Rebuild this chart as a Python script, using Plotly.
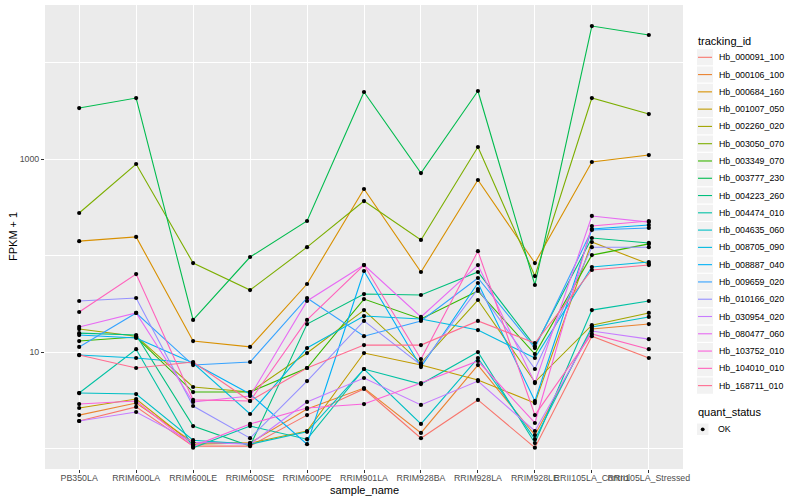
import plotly.graph_objects as go

samples = ["PB350LA", "RRIM600LA", "RRIM600LE", "RRIM600SE", "RRIM600PE", "RRIM901LA",
           "RRIM928BA", "RRIM928LA", "RRIM928LE", "RRII105LA_Control", "RRII105LA_Stressed"]

tracking_ids = ["Hb_000091_100", "Hb_000106_100", "Hb_000684_160", "Hb_001007_050", "Hb_002260_020",
                "Hb_003050_070", "Hb_003349_070", "Hb_003777_230", "Hb_004223_260", "Hb_004474_010",
                "Hb_004635_060", "Hb_008705_090", "Hb_008887_040", "Hb_009659_020", "Hb_010166_020",
                "Hb_030954_020", "Hb_080477_060", "Hb_103752_010", "Hb_104010_010", "Hb_168711_010"]

colors = ["#F8766D", "#EA8331", "#D89000", "#C09B00", "#A3A500", "#7CAE00", "#39B600", "#00BB4E",
          "#00BF7D", "#00C1A3", "#00BFC4", "#00BAE0", "#00B0F6", "#35A2FF", "#9590FF", "#C77CFF",
          "#E76BF3", "#FA62DB", "#FF62BC", "#FF6C91"]

# FPKM + 1 per sample (same order as samples)
hb_000091_100 = [1.93, 2.70, 1.06, 1.06, 2.22, 4.14, 1.28, 3.19, 1.02, 14.6, 8.67]
hb_000106_100 = [2.22, 2.96, 1.16, 1.14, 2.57, 4.24, 1.45, 7.33, 1.38, 17.3, 19.5]
hb_000684_160 = [141, 156, 13.0, 11.3, 50.7, 489, 67.5, 606, 83.6, 931, 1099]
hb_001007_050 = [2.63, 3.26, 1.11, 1.14, 1.52, 9.76, 7.33, 5.13, 2.96, 138, 81.6]
hb_002260_020 = [17.3, 14.6, 4.34, 3.85, 9.76, 27.2, 7.69, 34.6, 4.89, 19.0, 25.4]
hb_003050_070 = [276, 888, 83.6, 43.9, 122, 367, 145, 1332, 61.3, 4286, 2925]
hb_003349_070 = [13.0, 14.3, 3.85, 3.85, 6.83, 35.4, 22.0, 42.9, 9.53, 101, 132]
hb_003777_230 = [3375, 4286, 21.5, 96.5, 228, 4946, 716, 5070, 49.5, 23880, 19280]
hb_004223_260 = [15.7, 15.0, 1.71, 1.06, 19.5, 39.9, 39.0, 67.5, 11.5, 152, 135]
hb_004474_010 = [3.76, 10.7, 1.02, 1.71, 1.25, 6.67, 4.66, 10.0, 1.14, 27.2, 33.8]
hb_004635_060 = [3.76, 3.67, 1.22, 1.11, 1.49, 6.67, 1.80, 8.67, 1.25, 18.2, 23.1]
hb_008705_090 = [9.31, 8.67, 7.69, 2.28, 11.0, 23.6, 22.0, 16.9, 8.67, 76.0, 85.7]
hb_008887_040 = [15.0, 14.0, 7.69, 3.67, 1.11, 69.1, 6.99, 51.9, 3.11, 188, 207]
hb_009659_020 = [11.3, 25.4, 7.33, 7.88, 36.3, 14.6, 21.0, 58.5, 11.0, 184, 193]
hb_010166_020 = [33.8, 36.3, 2.76, 1.28, 5.00, 21.0, 7.33, 45.0, 6.67, 122, 122]
hb_030954_020 = [1.93, 2.39, 1.16, 1.11, 3.04, 5.38, 2.83, 5.00, 1.52, 16.5, 13.6]
hb_080477_060 = [18.2, 25.4, 3.04, 3.50, 33.8, 79.7, 23.1, 79.7, 4.77, 257, 222]
hb_103752_010 = [2.89, 3.11, 1.06, 1.80, 2.63, 2.89, 4.77, 8.07, 1.84, 202, 228]
hb_104010_010 = [26.0, 64.3, 3.19, 3.11, 21.5, 79.7, 8.46, 111, 2.22, 15.4, 10.7]
hb_168711_010 = [9.31, 6.83, 7.88, 3.11, 6.83, 11.8, 11.8, 21.0, 12.4, 70.8, 79.7]

series = [hb_000091_100, hb_000106_100, hb_000684_160, hb_001007_050, hb_002260_020,
          hb_003050_070, hb_003349_070, hb_003777_230, hb_004223_260, hb_004474_010,
          hb_004635_060, hb_008705_090, hb_008887_040, hb_009659_020, hb_010166_020,
          hb_030954_020, hb_080477_060, hb_103752_010, hb_104010_010, hb_168711_010]

y_breaks = [10, 1000]
y_break_labels = ["10", "1000"]
y_minor = [1, 100, 10000]

W, H = 800, 500
ML, MR, MT, MB = 45, 117, 5, 31
PW, PH = W - ML - MR, H - MT - MB


def px(x):
    return (x - ML) / PW


def py(y):
    return (H - MB - y) / PH


FONT = "Liberation Sans, Arial, sans-serif"

fig = go.Figure()
for name, col, vals in zip(tracking_ids, colors, series):
    fig.add_trace(go.Scatter(x=samples, y=vals, mode="lines", name=name,
                             line=dict(color=col, width=1.1), showlegend=False,
                             hoverinfo="skip"))

all_x, all_y = [], []
for vals in series:
    all_x += samples
    all_y += vals
fig.add_trace(go.Scatter(x=all_x, y=all_y, mode="markers", name="OK",
                         marker=dict(color="black", size=4.2), showlegend=False))

shapes = []
annotations = []

# legend: tracking_id
annotations.append(dict(x=px(696), y=py(41), xref="paper", yref="paper", text="tracking_id",
                        showarrow=False, xanchor="left", yanchor="middle",
                        font=dict(family=FONT, size=11, color="black")))
step = 17.28
for i, (name, col) in enumerate(zip(tracking_ids, colors)):
    cy = 57.3 + step * i
    shapes.append(dict(type="rect", xref="paper", yref="paper",
                       x0=px(696.5), x1=px(713.5), y0=py(cy - step / 2), y1=py(cy + step / 2),
                       fillcolor="#F2F2F2", line=dict(color="white", width=1), layer="above"))
    shapes.append(dict(type="line", xref="paper", yref="paper",
                       x0=px(698), x1=px(712), y0=py(cy), y1=py(cy),
                       line=dict(color=col, width=1.1), layer="above"))
    annotations.append(dict(x=px(716.5), y=py(cy), xref="paper", yref="paper", text=name,
                            showarrow=False, xanchor="left", yanchor="middle",
                            font=dict(family=FONT, size=8.8, color="black")))

# legend: quant_status
annotations.append(dict(x=px(696), y=py(412), xref="paper", yref="paper", text="quant_status",
                        showarrow=False, xanchor="left", yanchor="middle",
                        font=dict(family=FONT, size=11, color="black")))
shapes.append(dict(type="rect", xref="paper", yref="paper",
                   x0=px(697), x1=px(708.5), y0=py(423.5), y1=py(435),
                   fillcolor="#F2F2F2", line=dict(width=0), layer="above"))
shapes.append(dict(type="circle", xref="paper", yref="paper",
                   x0=px(700.8), x1=px(704.6), y0=py(427.4), y1=py(431.2),
                   fillcolor="black", line=dict(width=0), layer="above"))
annotations.append(dict(x=px(715.5), y=py(429.3), xref="paper", yref="paper", text="OK",
                        showarrow=False, xanchor="left", yanchor="middle",
                        font=dict(family=FONT, size=8.8, color="black")))

# axis titles
annotations.append(dict(x=px(364), y=py(490), xref="paper", yref="paper", text="sample_name",
                        showarrow=False, xanchor="center", yanchor="middle",
                        font=dict(family=FONT, size=11, color="black")))
annotations.append(dict(x=px(13), y=py(237), xref="paper", yref="paper", text="FPKM + 1",
                        showarrow=False, xanchor="center", yanchor="middle", textangle=-90,
                        font=dict(family=FONT, size=11, color="black")))

fig.update_layout(
    width=W, height=H,
    margin=dict(l=ML, r=MR, t=MT, b=MB, pad=0),
    paper_bgcolor="white", plot_bgcolor="#EBEBEB",
    font=dict(family=FONT, size=9, color="#4D4D4D"),
    showlegend=False,
    shapes=shapes, annotations=annotations,
)
fig.update_xaxes(type="category", categoryorder="array", categoryarray=samples,
                 range=[-0.6, len(samples) - 0.4], showgrid=True, gridcolor="white", gridwidth=1.07,
                 zeroline=False, showline=False, ticks="outside", ticklen=3, tickwidth=1,
                 tickcolor="#333333", tickangle=0, ticklabelstandoff=-3,
                 tickfont=dict(family=FONT, size=8.8, color="#4D4D4D"))
fig.update_yaxes(type="log", range=[-0.212, 4.596], tickmode="array", tickvals=y_breaks,
                 ticktext=y_break_labels, showgrid=True, gridcolor="white", gridwidth=1.07,
                 minor=dict(tickmode="array", tickvals=y_minor, showgrid=True, gridcolor="white",
                            gridwidth=0.55, ticks=""),
                 zeroline=False, showline=False, ticks="outside", ticklen=3, tickwidth=1,
                 tickcolor="#333333",
                 tickfont=dict(family=FONT, size=8.8, color="#4D4D4D"))

fig.write_html("out.html", config={"displayModeBar": False},
               post_script="document.body.style.margin='0';document.body.style.overflow='hidden';")
